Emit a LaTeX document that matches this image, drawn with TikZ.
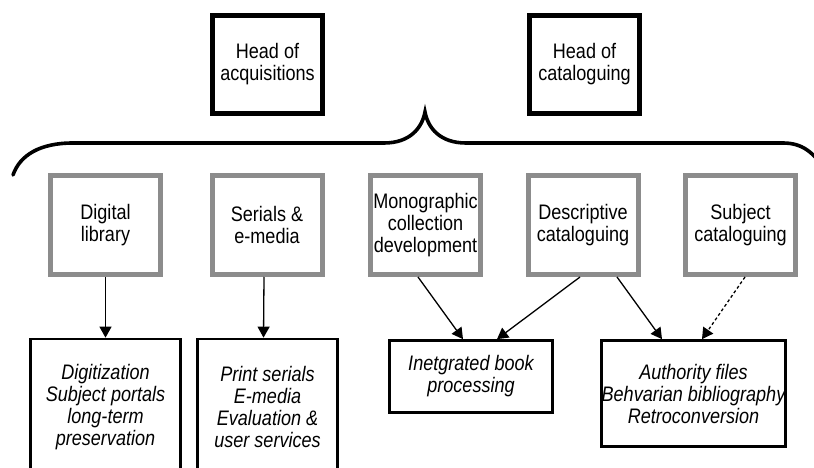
\documentclass[tikz,border=0pt]{standalone}
\usepackage{fontspec}
\setmainfont{Liberation Sans}[FakeStretch=0.86]
\usetikzlibrary{arrows.meta}
\definecolor{unitgray}{HTML}{8C8C8C}
\begin{document}
\begin{tikzpicture}[x=1pt,y=-1pt,
  font=\fontsize{21}{22}\selectfont,
  headbox/.style={draw=black, line width=5pt, fill=white, minimum width=110pt,
    minimum height=98pt, align=center, inner sep=0pt},
  unitbox/.style={draw=unitgray, line width=5pt, fill=white, minimum width=110pt,
    minimum height=99pt, align=center, inner sep=0pt},
  taskbox/.style={draw=black, line width=2.7pt, fill=white, align=center,
    inner sep=0pt, font=\fontsize{21}{22}\selectfont\itshape},
  link/.style={line width=1.3pt, -{Triangle[length=11pt,width=12pt]}},
  brace/.style={line width=3.6pt, line cap=round}]
\useasboundingbox (0,0) rectangle (814,468);

% heads
\node[headbox] (hacq) at (267.5,64.5) {Head of\\acquisitions};
\node[headbox] (hcat) at (584.5,64.5) {Head of\\cataloguing};

% curly brace under the heads
\coordinate (tip) at (425,112);
\draw[brace] (13,175) .. controls (20,155) and (40,143) .. (73,143)
  -- (384,143) .. controls (410,143) and (422,128) .. (tip)
  .. controls (428,128) and (440,143) .. (466,143)
  -- (783,143) .. controls (802,143) and (814,152) .. (826,172);

% units
\node[unitbox] (dig)  at (105.5,225) {Digital\\library};
\node[unitbox] (ser)  at (267,225)   {Serials \&\\e-media};
\node[unitbox] (mono) at (425.5,225) {Monographic\\collection\\development};
\node[unitbox] (desc) at (583,225)   {Descriptive\\cataloguing};
\node[unitbox] (subj) at (740.5,225) {Subject\\cataloguing};

% tasks
\node[taskbox, minimum width=150pt, minimum height=136pt] (tdig) at (105.5,407)
  {Digitization\\Subject portals\\long-term\\preservation};
\node[taskbox, minimum width=140pt, minimum height=136pt] (tser) at (267.5,407)
  {Print serials\\E-media\\Evaluation \&\\user services};
\node[taskbox, minimum width=163pt, minimum height=72pt] (tbook) at (471,376.5)
  {Inetgrated book\\processing};
\node[taskbox, minimum width=184pt, minimum height=106pt] (tauth) at (693.5,393.5)
  {Authority files\\Behvarian bibliography\\Retroconversion};

% connectors
\draw[link] (dig.south) -- (tdig.north);
\draw[link] ([xshift=-3pt]ser.south) -- ([xshift=-4pt]tser.north);
\draw[link] ([xshift=-7.5pt]mono.south) -- ([xshift=-8pt]tbook.north);
\draw[link] ([xshift=-3pt]desc.south) -- ([xshift=26pt]tbook.north);
\draw[link] ([xshift=34pt]desc.south) -- ([xshift=-31.5pt]tauth.north);
\draw[link, dash pattern=on 3pt off 2.5pt] ([xshift=4.5pt]subj.south) -- ([xshift=8.5pt]tauth.north);
\end{tikzpicture}
\end{document}
